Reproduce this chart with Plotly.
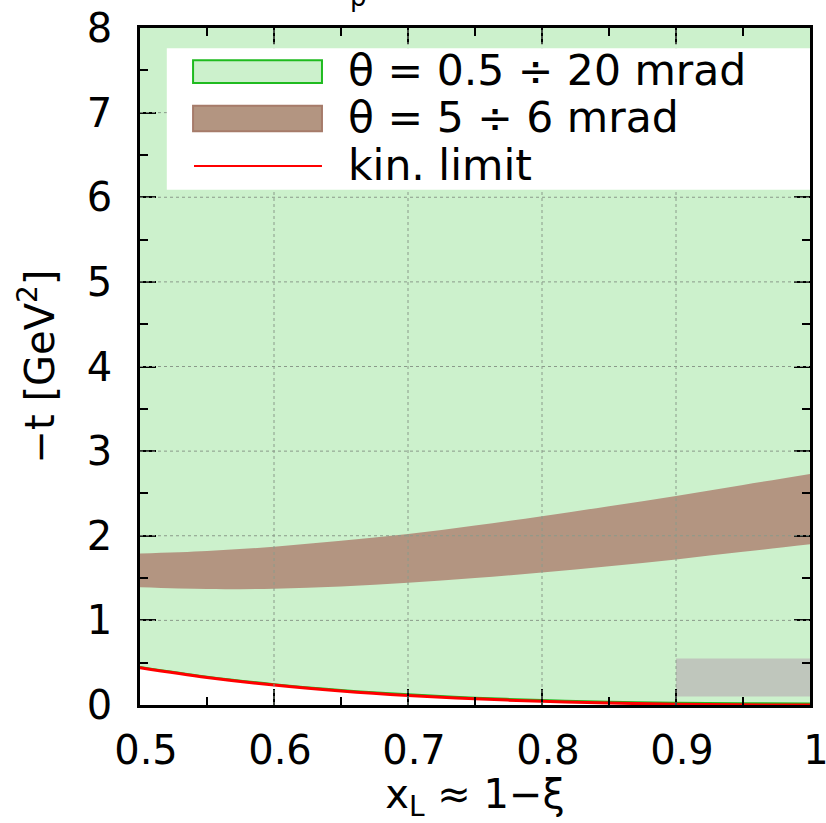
import plotly.graph_objects as go

# ---- data ----
xl = [0.50, 0.55, 0.60, 0.65, 0.70, 0.75, 0.80, 0.85, 0.90, 0.95, 1.00]
kin_limit = [0.44, 0.325, 0.235, 0.166, 0.113, 0.073, 0.044, 0.023, 0.010, 0.002, 0.0]
green_low = [0.45, 0.335, 0.246, 0.178, 0.126, 0.087, 0.059, 0.039, 0.027, 0.020, 0.019]
green_high = [8, 8, 8, 8, 8, 8, 8, 8, 8, 8, 8]
band_low = [1.39, 1.37, 1.375, 1.40, 1.445, 1.50, 1.565, 1.64, 1.72, 1.81, 1.90]
band_high = [1.79, 1.82, 1.87, 1.94, 2.02, 2.12, 2.23, 2.35, 2.47, 2.60, 2.73]
box_x = [0.9, 1.0]
box_t = [0.10, 0.55]

x_ticks = [0.5, 0.6, 0.7, 0.8, 0.9, 1.0]
x_ticklabels = ["0.5", "0.6", "0.7", "0.8", "0.9", "1"]
y_ticks = [0, 1, 2, 3, 4, 5, 6, 7, 8]
y_ticklabels = ["0", "1", "2", "3", "4", "5", "6", "7", "8"]

labels = ["θ = 0.5 ÷ 20 mrad", "θ = 5 ÷ 6 mrad", "kin. limit"]

GREEN_FILL = "#ccf1cc"
GREEN_LINE = "#1fbb1f"
BROWN_FILL = "#b39581"
BROWN_LINE = "#a67b6a"
RED = "#ff0000"
GRAY = "#bfc6bc"
FONT = "DejaVu Sans"
FS = 40

fig = go.Figure()

# green region
fig.add_trace(go.Scatter(x=xl, y=green_high, mode="lines", line=dict(width=0, color=GREEN_FILL),
                         showlegend=False, hoverinfo="skip"))
fig.add_trace(go.Scatter(x=xl, y=green_low, mode="lines", line=dict(width=2, color=GREEN_LINE, shape="spline"),
                         fill="tonexty", fillcolor=GREEN_FILL, showlegend=False))
# brown band
fig.add_trace(go.Scatter(x=xl, y=band_low, mode="lines", line=dict(width=0, color=BROWN_FILL, shape="spline"),
                         showlegend=False, hoverinfo="skip"))
fig.add_trace(go.Scatter(x=xl, y=band_high, mode="lines", line=dict(width=0, color=BROWN_FILL, shape="spline"),
                         fill="tonexty", fillcolor=BROWN_FILL, showlegend=False))
# kin. limit
fig.add_trace(go.Scatter(x=xl, y=kin_limit, mode="lines", line=dict(width=3, color=RED, shape="spline"),
                         showlegend=False))
# gray box
fig.add_trace(go.Scatter(x=[box_x[0], box_x[1], box_x[1], box_x[0], box_x[0]],
                         y=[box_t[0], box_t[0], box_t[1], box_t[1], box_t[0]],
                         mode="lines", line=dict(width=0, color=GRAY), fill="toself", fillcolor=GRAY,
                         showlegend=False))

shapes = []
# dotted grid lines drawn above fills
for xv in x_ticks[1:-1]:
    shapes.append(dict(type="line", xref="x", yref="y", x0=xv, x1=xv, y0=0, y1=8,
                       line=dict(color="#8a9a8a", width=1, dash="dot"), layer="above"))
for yv in y_ticks[1:-1]:
    shapes.append(dict(type="line", xref="x", yref="y", x0=0.5, x1=1.0, y0=yv, y1=yv,
                       line=dict(color="#8a9a8a", width=1, dash="dot"), layer="above"))
# legend box
shapes.append(dict(type="rect", xref="x", yref="y", x0=0.520, x1=1.0, y0=6.09, y1=7.76,
                   fillcolor="white", line=dict(width=0), layer="above"))
shapes.append(dict(type="rect", xref="x", yref="y", x0=0.5396, x1=0.6358, y0=7.35, y1=7.62,
                   fillcolor=GREEN_FILL, line=dict(width=2, color=GREEN_LINE), layer="above"))
shapes.append(dict(type="rect", xref="x", yref="y", x0=0.5396, x1=0.6358, y0=6.78, y1=7.08,
                   fillcolor=BROWN_FILL, line=dict(width=2, color=BROWN_LINE), layer="above"))
shapes.append(dict(type="line", xref="x", yref="y", x0=0.5403, x1=0.6358, y0=6.37, y1=6.37,
                   line=dict(width=2, color=RED), layer="above"))

annotations = []
for txt, yv in zip(labels, [7.50, 6.94, 6.38]):
    annotations.append(dict(x=0.6540, y=yv, xref="x", yref="y", text=txt, showarrow=False,
                            xanchor="left", yanchor="middle", font=dict(family=FONT, size=42.5, color="black")))
# clipped title fragment at top
annotations.append(dict(x=(358 - 140) / 670, y=1.0, xref="paper", yref="paper", text="p", showarrow=False,
                        xanchor="center", yanchor="bottom", yshift=14,
                        font=dict(family=FONT, size=26, color="black")))

axis_common = dict(
    showline=True, linecolor="black", linewidth=2.5, mirror="allticks",
    ticks="inside", ticklen=16, tickwidth=2, tickcolor="black",
    showgrid=False, zeroline=False, automargin=False,
    tickfont=dict(family=FONT, size=FS, color="black"),
    ticklabeloverflow="allow",
    layer="above traces",
)

fig.update_layout(
    width=826, height=823,
    margin=dict(l=140, r=16, t=28, b=118),
    paper_bgcolor="white", plot_bgcolor="white",
    shapes=shapes, annotations=annotations,
    showlegend=False,
    xaxis=dict(range=[0.5, 1.0], tickvals=x_ticks, ticktext=x_ticklabels,
               minor=dict(dtick=0.05, ticks="inside", ticklen=8, tickwidth=2, tickcolor="black", showgrid=False),
               ticklabelstandoff=8, ticklabelshift=6,
               title=dict(text="x<sub>L</sub> ≈ 1−ξ", font=dict(family=FONT, size=FS, color="black"), standoff=12),
               **axis_common),
    yaxis=dict(range=[0, 8], tickvals=y_ticks, ticktext=y_ticklabels,
               minor=dict(dtick=0.5, ticks="inside", ticklen=8, tickwidth=2, tickcolor="black", showgrid=False),
               ticklabelstandoff=17,
               title=dict(text="−t [GeV<sup>2</sup>]", font=dict(family=FONT, size=FS, color="black"), standoff=20),
               **axis_common),
)

fig.write_html("out.html")
